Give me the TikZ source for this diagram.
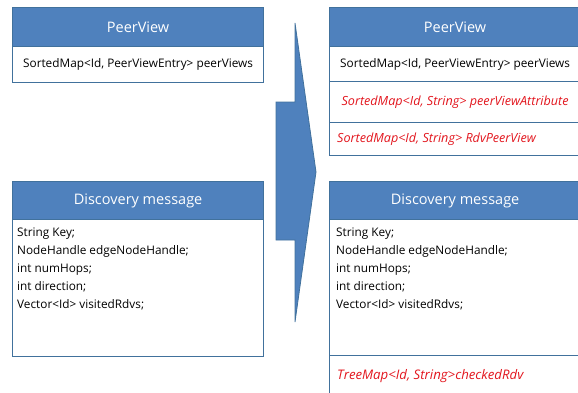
\documentclass[tikz,border=0pt]{standalone}
\usepackage{fontspec}
\setmainfont{Open Sans}
\usetikzlibrary{positioning}
\definecolor{hdrblue}{HTML}{4F81BD}
\definecolor{edgeblue}{HTML}{41719C}
\definecolor{addred}{HTML}{E3161E}

\begin{document}
\begin{tikzpicture}[x=1pt, y=-1pt,
    hdr/.style={draw=edgeblue, line width=1.2pt, fill=hdrblue, text=white,
        font=\fontsize{14.5}{16}\selectfont, minimum width=251pt, minimum height=39pt,
        inner sep=0pt, anchor=north west},
    row/.style={draw=edgeblue, line width=1.2pt, fill=white,
        font=\fontsize{11.8}{18}\selectfont, minimum width=251pt,
        inner sep=0pt, anchor=north west},
    added/.style={text=addred, font=\fontsize{12.6}{18}\selectfont\itshape},
    listtext/.style={align=left, anchor=north west, inner sep=0pt,
        font=\fontsize{11.8}{18}\selectfont}]
    \useasboundingbox (0,0) rectangle (578,392);
    \clip (0,0) rectangle (578,392);

    % before
    \node[hdr] (pvleft) at (12,7) {PeerView};
    \node[row, minimum height=36pt] (pvleftrow) at (12,46) {SortedMap<Id, PeerViewEntry> peerViews};

    \node[hdr] (dmleft) at (12,181) {Discovery message};
    \node[row, minimum height=137pt] (dmleftbody) at (12,219) {};
    \node[listtext] (dmlefttext) at ([xshift=5pt, yshift=-9pt]dmleftbody.north west)
        {String Key;\\ NodeHandle edgeNodeHandle;\\ int numHops;\\ int direction;\\ Vector<Id> visitedRdvs;};

    % arrow
    \filldraw[fill=hdrblue, draw=edgeblue, line width=0.8pt]
        (276,102) -- (295,102) -- (295,23) -- (316,172) -- (295,322) -- (295,240) -- (276,240) -- cycle;

    % after
    \node[hdr] (pvright) at (329,7) {PeerView};
    \node[row, minimum height=35pt] (pvrightrow) at (329,46) {SortedMap<Id, PeerViewEntry> peerViews};
    \node[row, minimum height=41pt, added] (pvattr) at (329,81) {SortedMap<Id, String> peerViewAttribute};
    \node[row, minimum height=33pt] (pvrdv) at (329,122) {};
    \node[added, anchor=west, inner sep=0pt] (pvrdvtext) at ([xshift=8pt]pvrdv.west) {SortedMap<Id, String> RdvPeerView};

    \node[hdr] (dmright) at (329,181) {Discovery message};
    \node[row, minimum height=136pt] (dmrightbody) at (329,219) {};
    \node[listtext] (dmrighttext) at ([xshift=7pt, yshift=-9pt]dmrightbody.north west)
        {String Key;\\ NodeHandle edgeNodeHandle;\\ int numHops;\\ int direction;\\ Vector<Id> visitedRdvs;};
    \node[row, minimum height=45pt] (dmchecked) at (329,355) {};
    \node[added, font=\fontsize{13.2}{18}\selectfont\itshape, anchor=north west, inner sep=0pt] (dmcheckedtext)
        at ([xshift=8pt, yshift=-14pt]dmchecked.north west) {TreeMap<Id, String>checkedRdv};
\end{tikzpicture}
\end{document}
